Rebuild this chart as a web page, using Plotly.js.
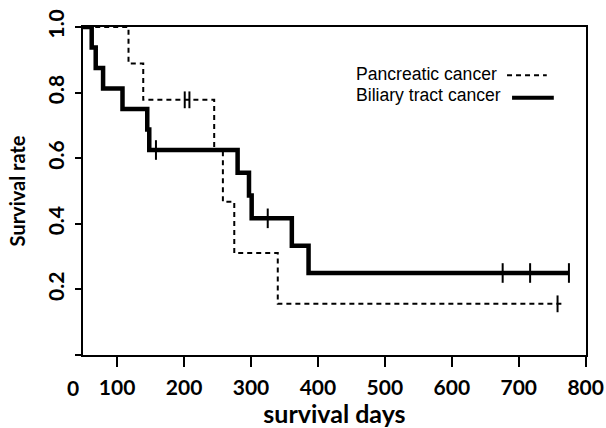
<!DOCTYPE html>
<html>
<head>
<meta charset="utf-8">
<script src="https://cdn.plot.ly/plotly-3.0.1.min.js"></script>
<style>html,body{margin:0;padding:0;background:#fff;}#chart{width:606px;height:428px;}</style>
</head>
<body>
<div id="chart"></div>
<script>
// Biliary tract cancer (solid) Kaplan-Meier steps
const biliaryTime = [0, 62, 68, 79, 108, 145, 148, 280, 297, 301, 361, 386, 775];
const biliarySurv = [1, 0.9375, 0.875, 0.8125, 0.75, 0.6875, 0.625, 0.5556, 0.4861, 0.4167, 0.3333, 0.25, 0.25];
const biliaryCensorTime = [158, 325, 676, 717, 775];
const biliaryCensorSurv = [0.625, 0.4167, 0.25, 0.25, 0.25];

// Pancreatic cancer (dashed)
const pancTime = [0, 117, 139, 245, 258, 275, 340, 767];
const pancSurv = [1, 0.889, 0.778, 0.622, 0.467, 0.311, 0.156, 0.156];
const pancCensorTime = [201, 208, 758];
const pancCensorSurv = [0.778, 0.778, 0.156];

const xTickVals = [100, 200, 300, 400, 500, 600, 700, 800];
const yTickVals = [0, 0.2, 0.4, 0.6, 0.8, 1.0];
const yTickText = ['', '0.2', '0.4', '0.6', '0.8', '1.0'];
const seriesNames = ['Pancreatic cancer', 'Biliary tract cancer'];

const traces = [
  {x: pancTime, y: pancSurv, mode: 'lines', line: {shape: 'hv', color: '#000', width: 2, dash: '5px,4px'}, showlegend: false},
  {x: pancCensorTime, y: pancCensorSurv, mode: 'markers', marker: {symbol: 'line-ns', size: 12, line: {color: '#000', width: 2}}, showlegend: false},
  {x: biliaryTime, y: biliarySurv, mode: 'lines', line: {shape: 'hv', color: '#000', width: 4.5}, showlegend: false},
  {x: biliaryCensorTime, y: biliaryCensorSurv, mode: 'markers', marker: {symbol: 'line-ns', size: 14, line: {color: '#000', width: 2}}, showlegend: false}
];

const FAM = 'Lato, "DejaVu Sans", sans-serif';
const tickFont = {family: FAM, size: 21, color: '#000', weight: 'bold'};

const layout = {
  width: 606, height: 428,
  margin: {l: 83, r: 20, t: 27, b: 73},
  paper_bgcolor: '#fff', plot_bgcolor: '#fff',
  showlegend: false,
  xaxis: {
    range: [49, 800.5], tickvals: xTickVals, ticks: 'outside', ticklen: 10, tickwidth: 2, tickcolor: '#000',
    showgrid: false, zeroline: false, showline: true, linecolor: '#000', linewidth: 2, mirror: true,
    tickfont: tickFont, ticklabelstandoff: 3,
    title: {text: 'survival days', font: {family: FAM, size: 25, color: '#000', weight: 'bold'}, standoff: 0}
  },
  yaxis: {
    range: [0, 1.0], tickvals: yTickVals, ticktext: yTickText, tickangle: -90,
    ticks: 'outside', ticklen: 6, tickwidth: 2, tickcolor: '#000',
    showgrid: false, zeroline: false, showline: true, linecolor: '#000', linewidth: 2, mirror: true,
    tickfont: tickFont, ticklabelstandoff: 3,
    title: {text: 'Survival rate', font: {family: FAM, size: 20, color: '#000', weight: 'bold'}, standoff: 12}
  },
  annotations: [
    {xref: 'paper', yref: 'paper', x: -0.02, y: 0, yshift: -18, xanchor: 'center', yanchor: 'top', text: '0', showarrow: false, font: tickFont},
    {xref: 'paper', yref: 'paper', x: 0.539, y: 0.857, xanchor: 'left', yanchor: 'middle', text: seriesNames[0], showarrow: false, font: {family: '"Liberation Sans", Arial, sans-serif', size: 17.6, color: '#000'}},
    {xref: 'paper', yref: 'paper', x: 0.539, y: 0.793, xanchor: 'left', yanchor: 'middle', text: seriesNames[1], showarrow: false, font: {family: '"Liberation Sans", Arial, sans-serif', size: 17.6, color: '#000'}}
  ],
  shapes: [
    {type: 'line', xref: 'paper', yref: 'paper', x0: 0.843, x1: 0.922, y0: 0.853, y1: 0.853, line: {color: '#000', width: 2, dash: '5px,4px'}},
    {type: 'line', xref: 'paper', yref: 'paper', x0: 0.853, x1: 0.936, y0: 0.784, y1: 0.784, line: {color: '#000', width: 4}}
  ]
};

Plotly.newPlot('chart', traces, layout, {displayModeBar: false, staticPlot: true});
</script>
</body>
</html>
